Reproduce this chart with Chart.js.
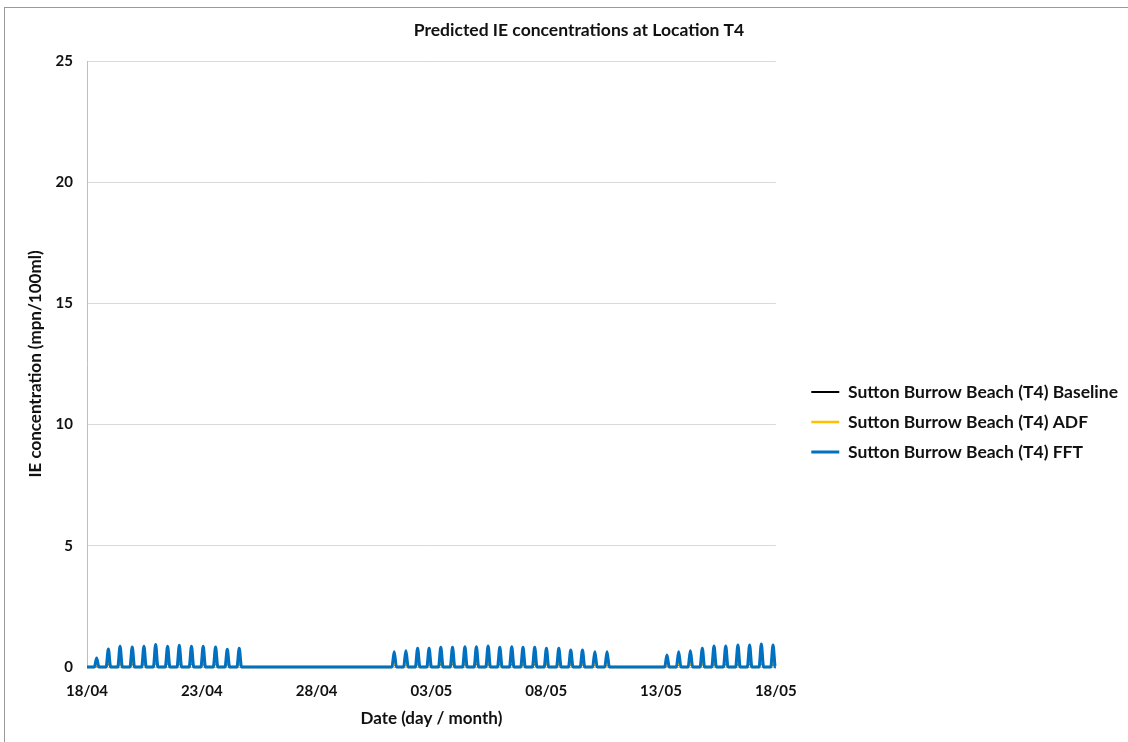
<!DOCTYPE html>
<html>
<head>
<meta charset="utf-8">
<script src="https://cdn.jsdelivr.net/npm/chart.js@4.4.1/dist/chart.umd.min.js"></script>
<style>
  html, body { margin: 0; padding: 0; background: #fff; }
  #wrap { position: relative; width: 1128px; height: 742px; }
  #frame { position: absolute; left: 4px; top: 7px; right: 0; bottom: 0; border-top: 1px solid #9a9a9a; border-left: 1px solid #9a9a9a; pointer-events: none; }
  canvas { position: absolute; left: 0; top: 0; }
</style>
</head>
<body>
<div id="wrap">
  <canvas id="myChart" width="1128" height="742"></canvas>
  <div id="frame"></div>
</div>
<script>
// days since 18/04 for each tidal peak
const peakDays = [
  0.42, 0.93, 1.44, 1.97, 2.48, 2.99, 3.51, 4.02, 4.55, 5.06, 5.60, 6.11, 6.63,
  13.38, 13.89, 14.40, 14.90, 15.41, 15.92, 16.46, 16.96, 17.47, 17.98, 18.50, 18.99, 19.50, 20.01, 20.55, 21.07, 21.58, 22.12, 22.65,
  25.26, 25.77, 26.28, 26.80, 27.31, 27.82, 28.35, 28.86, 29.37, 29.88
];
const fftPeaks = [
  0.37, 0.74, 0.86, 0.83, 0.86, 0.93, 0.86, 0.90, 0.86, 0.86, 0.82, 0.73, 0.77,
  0.63, 0.67, 0.77, 0.77, 0.81, 0.81, 0.84, 0.84, 0.87, 0.81, 0.84, 0.81, 0.81, 0.77, 0.77, 0.70, 0.70, 0.63, 0.63,
  0.50, 0.63, 0.67, 0.77, 0.87, 0.87, 0.91, 0.91, 0.95, 0.91
];
const adfPeaks = [
  0.15, 0.30, 0.35, 0.32, 0.35, 0.38, 0.35, 0.36, 0.34, 0.33, 0.31, 0.28, 0.28,
  0.22, 0.25, 0.28, 0.28, 0.30, 0.30, 0.32, 0.32, 0.33, 0.30, 0.32, 0.30, 0.30, 0.28, 0.28, 0.25, 0.25, 0.22, 0.22,
  0.18, 0.22, 0.25, 0.28, 0.32, 0.32, 0.34, 0.34, 0.36, 0.34
];
const baselinePeaks = [
  0.08, 0.18, 0.22, 0.20, 0.22, 0.24, 0.22, 0.23, 0.21, 0.20, 0.19, 0.17, 0.17,
  0.13, 0.15, 0.17, 0.17, 0.18, 0.18, 0.19, 0.19, 0.20, 0.18, 0.19, 0.18, 0.18, 0.17, 0.17, 0.15, 0.15, 0.13, 0.13,
  0.10, 0.13, 0.15, 0.17, 0.19, 0.19, 0.20, 0.20, 0.22, 0.20
];
const dateLabels = ["18/04", "23/04", "28/04", "03/05", "08/05", "13/05", "18/05"];
const seriesNames = [
  "Sutton Burrow Beach (T4) Baseline",
  "Sutton Burrow Beach (T4) ADF",
  "Sutton Burrow Beach (T4) FFT"
];

const totalDays = 30;
const halfWidth = 0.1; // half-width of a spike in days

function spikes(peaks) {
  const pts = [{ x: 0, y: 0 }];
  peakDays.forEach((d, i) => {
    pts.push({ x: d - halfWidth, y: 0 }, { x: d, y: peaks[i] }, { x: d + halfWidth, y: 0 });
  });
  pts.push({ x: totalDays, y: 0 });
  return pts;
}

const font = "Lato";
const ctx = document.getElementById("myChart").getContext("2d");
const myChart = new Chart(ctx, {
  type: "line",
  data: {
    datasets: [
      { label: seriesNames[0], data: spikes(baselinePeaks), borderColor: "#000000", backgroundColor: "#000000", borderWidth: 2, order: 3 },
      { label: seriesNames[1], data: spikes(adfPeaks), borderColor: "#FFC000", backgroundColor: "#FFC000", borderWidth: 2.5, order: 2 },
      { label: seriesNames[2], data: spikes(fftPeaks), borderColor: "#0070C0", backgroundColor: "#0070C0", borderWidth: 3, order: 1 },
    ],
  },
  options: {
    responsive: false,
    animation: false,
    layout: { padding: { left: 30, right: 0, top: 0, bottom: 0 } },
    elements: {
      point: { radius: 0, hoverRadius: 0 },
      line: { cubicInterpolationMode: "monotone", fill: false },
    },
    clip: 6,
    plugins: {
      tooltip: { enabled: false },
      title: {
        display: true,
        text: "Predicted IE concentrations at Location T4",
        color: "#111",
        font: { family: font, size: 17.5, weight: "bold" },
        padding: { top: 20, bottom: 20 },
      },
      legend: {
        position: "right",
        maxWidth: 400,
        title: { display: true, text: " ", font: { size: 10 }, padding: { top: 90, bottom: 0 } },
        labels: {
          color: "#111",
          font: { family: font, size: 17.5, weight: "bold" },
          usePointStyle: true,
          pointStyle: "line",
          pointStyleWidth: 28,
          padding: 12.5,
          sort: (a, b) => a.datasetIndex - b.datasetIndex,
        },
      },
    },
    scales: {
      x: {
        type: "linear",
        min: 0,
        max: totalDays,
        afterFit: (s) => { s.height = 75; },
        ticks: {
          stepSize: 5,
          color: "#111",
          padding: 15,
          font: { family: font, size: 15, weight: "bold" },
          callback: (v) => dateLabels[v / 5],
        },
        grid: { display: false, drawTicks: false },
        border: { color: "#bfbfbf" },
        title: {
          display: true,
          text: "Date (day / month)",
          color: "#111",
          font: { family: font, size: 17, weight: "bold" },
          padding: { top: 0, bottom: 13 },
        },
      },
      y: {
        min: 0,
        max: 25,
        afterFit: (s) => { s.width = 57; },
        ticks: {
          stepSize: 5,
          color: "#111",
          padding: 14,
          font: { family: font, size: 15, weight: "bold" },
        },
        grid: { color: "#d9d9d9", drawTicks: false },
        border: { color: "#bfbfbf" },
        title: {
          display: true,
          text: "IE concentration (mpn/100ml)",
          color: "#111",
          font: { family: font, size: 17, weight: "bold" },
          padding: { top: -5, bottom: 0 },
        },
      },
      // empty right-hand spacer between plot and legend
      gap: {
        position: "right",
        min: 0,
        max: 25,
        afterFit: (s) => { s.width = 23; },
        ticks: { display: false },
        grid: { display: false, drawTicks: false },
        border: { display: false },
      },
    },
  },
});
</script>
</body>
</html>
